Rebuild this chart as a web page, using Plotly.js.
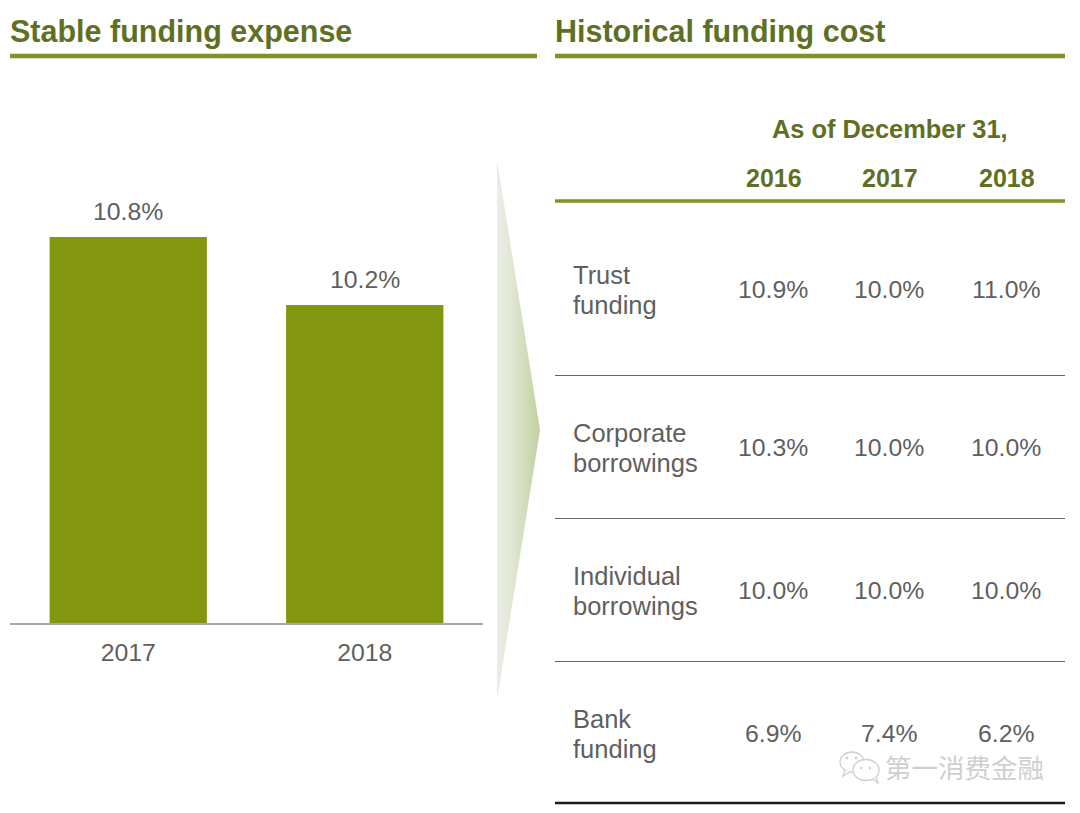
<!DOCTYPE html>
<html><head><meta charset="utf-8">
<script src="https://cdn.plot.ly/plotly-3.0.1.min.js"></script>
<style>html,body{margin:0;padding:0;background:#fff}#c{width:1080px;height:813px}</style>
</head><body><div id="c"></div>
<script>
const barYears = ['2017','2018'];
const barValues = [10.8,10.2];
const barLabels = ['10.8%','10.2%'];
const leftTitle = 'Stable funding expense';
const rightTitle = 'Historical funding cost';
const tableHeading = 'As of December 31,';
const tableYears = ['2016','2017','2018'];
const rowLabels = [['Trust','funding'],['Corporate','borrowings'],['Individual','borrowings'],['Bank','funding']];
const rowValues = [['10.9%','10.0%','11.0%'],['10.3%','10.0%','10.0%'],['10.0%','10.0%','10.0%'],['6.9%','7.4%','6.2%']];
const watermark = '第一消费金融';

const W=1080,H=813;
const px=x=>x/W, py=y=>1-y/H;
const GREEN='#83960f', DARK='#5f7024', RULE='#7f9326', GREY='#5f5f5f';
const FONT='"Liberation Sans", Arial, sans-serif';
const colX=[773,889,1006], rowY=[289.5,447.5,590.5,733.5];

const ann=[];
function t(text,x,y,o={}){ann.push(Object.assign({text,x:px(x),y:py(y),xref:'paper',yref:'paper',showarrow:false,xanchor:'center',yanchor:'middle',
  font:{family:FONT,size:24.8,color:GREY}},o));}
const bold=(s)=>'<b>'+s+'</b>';
t(bold(leftTitle),8,31,{xanchor:'left',font:{family:FONT,size:30.5,color:DARK}});
t(bold(rightTitle),553,31,{xanchor:'left',font:{family:FONT,size:30.5,color:DARK}});
t(bold(tableHeading),889.5,129,{font:{family:FONT,size:25.4,color:DARK}});
tableYears.forEach((y,i)=>t(bold(y),colX[i]+1,178,{font:{family:FONT,size:25,color:DARK}}));
rowLabels.forEach((ls,r)=>{
  ls.forEach((l,k)=>t(l,571,rowY[r]-14.5+k*30,{xanchor:'left',font:{family:FONT,size:25.5,color:GREY}}));
  rowValues[r].forEach((v,c)=>t(v,colX[c],rowY[r]));
});
t(watermark,964.5,766,{font:{family:'"Noto Sans CJK SC", sans-serif',size:26.5,color:'#cfcfcf'}});
barYears.forEach((y,i)=>ann.push({text:barLabels[i],x:i,y:barValues[i],xref:'x',yref:'y',showarrow:false,xanchor:'center',yanchor:'bottom',yshift:10,
  font:{family:FONT,size:24.8,color:GREY}}));

const hline=(x0,x1,y,color,width)=>({type:'line',xref:'paper',yref:'paper',x0:px(x0),x1:px(x1),y0:py(y),y1:py(y),line:{color,width},layer:'above'});
const shapes=[
  hline(10,537,56,RULE,4.5),hline(555,1065,56,RULE,4.5),
  hline(555,1065,201,RULE,3.5),
  hline(555,1065,375.5,'#666666',1),hline(555,1065,518.5,'#666666',1),hline(555,1065,661.5,'#666666',1),
  hline(555,1065,803,'#1c1c1c',2.5)
];
const arrowSvg=`<svg xmlns="http://www.w3.org/2000/svg" width="46" height="540" viewBox="0 0 46 540"><defs><linearGradient id="g" x1="0" x2="1" y1="0" y2="0"><stop offset="0" stop-color="#ebede6"/><stop offset="0.35" stop-color="#e0e7d3"/><stop offset="1" stop-color="#bfd19f"/></linearGradient></defs><path d="M0 0 L43 270 L0 540 Z" fill="url(#g)"/></svg>`;
const iconSvg=`<svg xmlns="http://www.w3.org/2000/svg" width="44" height="34" viewBox="0 0 44 34"><g fill="#fff" stroke="#cfcfcf" stroke-width="1.3"><ellipse cx="14" cy="12" rx="12" ry="10"/><path d="M7 20 L5 26 L12 22"/><ellipse cx="28" cy="20" rx="13" ry="10.5"/><path d="M35 29 L40 33 L38 26"/></g><g fill="#cfcfcf"><circle cx="9" cy="8" r="1.4"/><circle cx="18" cy="8" r="1.4"/><circle cx="23" cy="18" r="1.2"/><circle cx="32" cy="18" r="1.2"/></g></svg>`;
const uri=s=>'data:image/svg+xml;charset=utf-8,'+encodeURIComponent(s);
const images=[
 {source:uri(arrowSvg),xref:'paper',yref:'paper',x:px(497),y:py(160),sizex:46/W,sizey:540/H,sizing:'stretch',xanchor:'left',yanchor:'top',layer:'below'},
 {source:uri(iconSvg),xref:'paper',yref:'paper',x:px(838),y:py(750),sizex:44/W,sizey:34/H,sizing:'stretch',xanchor:'left',yanchor:'top',layer:'above'}
];

const data=[{type:'bar',x:barYears,y:barValues,cliponaxis:false,marker:{color:GREEN},hoverinfo:'skip'}];
const layout={width:W,height:H,margin:{l:0,r:0,t:0,b:0},paper_bgcolor:'#fff',plot_bgcolor:'rgba(0,0,0,0)',showlegend:false,bargap:0.335,
  xaxis:{domain:[px(10),px(483)],type:'category',range:[-0.5,1.5],showgrid:false,zeroline:false,showline:true,linecolor:'#a9a9a9',linewidth:1.5,
    ticks:'outside',ticklen:7,tickcolor:'rgba(0,0,0,0)',tickfont:{family:FONT,size:24.8,color:GREY}},
  yaxis:{domain:[py(623),py(100)],range:[7.394,12.009],visible:false,fixedrange:true},
  annotations:ann,shapes,images};
Plotly.newPlot('c',data,layout,{displayModeBar:false,staticPlot:true});
</script></body></html>
